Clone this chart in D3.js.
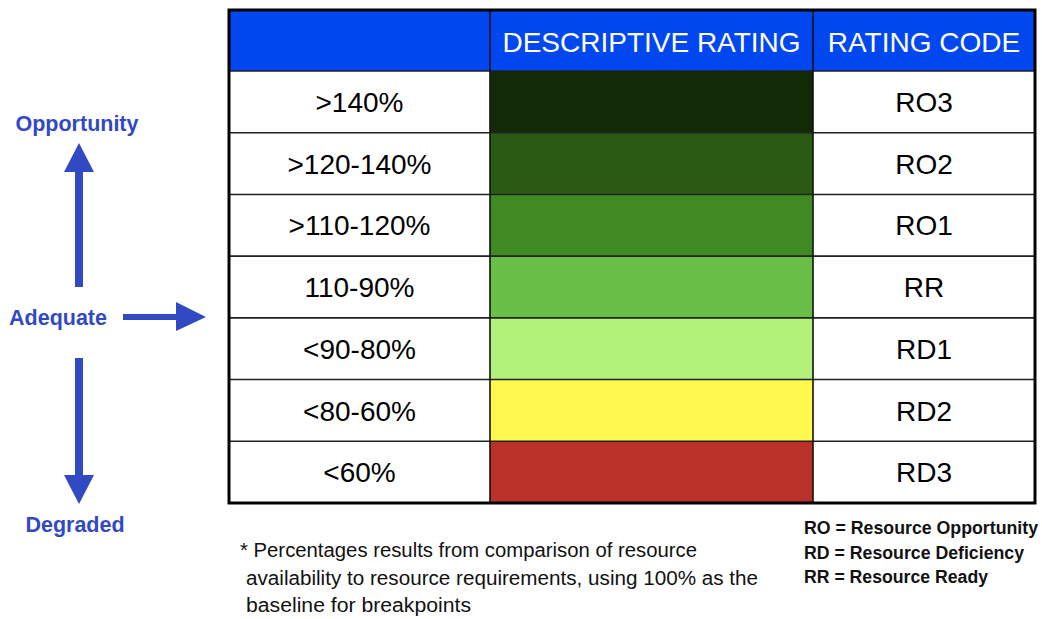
<!DOCTYPE html>
<html>
<head>
<meta charset="utf-8">
<script src="https://cdn.jsdelivr.net/npm/d3@7"></script>
<style>
  body { margin: 0; background: #fff; }
  svg { display: block; }
</style>
</head>
<body>
<div id="chart"></div>
<script>
// table content
const ranges = ['>140%', '>120-140%', '>110-120%', '110-90%', '<90-80%', '<80-60%', '<60%'];
const codes = ['RO3', 'RO2', 'RO1', 'RR', 'RD1', 'RD2', 'RD3'];
const ratingColors = ['#122b06', '#2b5a14', '#3f8a22', '#69bf47', '#b3f27a', '#fef84f', '#b93128'];
const headers = ['', 'DESCRIPTIVE RATING', 'RATING CODE'];
const directions = ['Opportunity', 'Adequate', 'Degraded'];
const footnote = [
  '* Percentages results from comparison of resource',
  'availability to resource requirements, using 100% as the',
  'baseline for breakpoints'
];
const legend = ['RO = Resource Opportunity', 'RD = Resource Deficiency', 'RR = Resource Ready'];

const W = 1042, H = 619;
const blue = '#3249c4';

const svg = d3.select('#chart').append('svg')
  .attr('width', W)
  .attr('height', H);

// layout
const tableLeft = 229, tableRight = 1035, tableTop = 10, headerBottom = 71, tableBottom = 503;
const colEdges = [tableLeft, 490, 813, tableRight];
const cellFont = 'Liberation Sans, Arial, sans-serif';

const y = d3.scaleBand()
  .domain(ranges)
  .range([headerBottom, tableBottom]);

// header
svg.append('rect')
  .attr('x', tableLeft).attr('y', tableTop)
  .attr('width', tableRight - tableLeft).attr('height', headerBottom - tableTop)
  .attr('fill', '#0047f0');

svg.selectAll('text.head')
  .data(headers)
  .enter()
  .append('text')
  .attr('class', 'head')
  .attr('x', (d, i) => (colEdges[i] + colEdges[i + 1]) / 2)
  .attr('y', (tableTop + headerBottom) / 2 + 1)
  .attr('dy', '0.36em')
  .attr('text-anchor', 'middle')
  .attr('font-family', cellFont)
  .attr('font-size', 28)
  .attr('fill', '#fff')
  .text(d => d);

// rating colour cells
svg.selectAll('rect.rating')
  .data(ranges)
  .enter()
  .append('rect')
  .attr('class', 'rating')
  .attr('x', colEdges[1])
  .attr('y', d => y(d))
  .attr('width', colEdges[2] - colEdges[1])
  .attr('height', y.bandwidth())
  .attr('fill', (d, i) => ratingColors[i]);

// range labels
svg.selectAll('text.range')
  .data(ranges)
  .enter()
  .append('text')
  .attr('class', 'range')
  .attr('x', (colEdges[0] + colEdges[1]) / 2)
  .attr('y', d => y(d) + y.bandwidth() / 2)
  .attr('dy', '0.36em')
  .attr('text-anchor', 'middle')
  .attr('font-family', cellFont)
  .attr('font-size', 28)
  .attr('fill', '#000')
  .text(d => d);

// code labels
svg.selectAll('text.code')
  .data(codes)
  .enter()
  .append('text')
  .attr('class', 'code')
  .attr('x', (colEdges[2] + colEdges[3]) / 2)
  .attr('y', (d, i) => y(ranges[i]) + y.bandwidth() / 2)
  .attr('dy', '0.36em')
  .attr('text-anchor', 'middle')
  .attr('font-family', cellFont)
  .attr('font-size', 28)
  .attr('fill', '#000')
  .text(d => d);

// grid lines
svg.selectAll('line.row')
  .data(ranges.slice(1))
  .enter()
  .append('line')
  .attr('x1', tableLeft).attr('x2', tableRight)
  .attr('y1', d => y(d)).attr('y2', d => y(d))
  .attr('stroke', '#222').attr('stroke-width', 1.6);

svg.append('line')
  .attr('x1', tableLeft).attr('x2', tableRight)
  .attr('y1', headerBottom).attr('y2', headerBottom)
  .attr('stroke', '#222').attr('stroke-width', 1.6);

svg.selectAll('line.col')
  .data(colEdges.slice(1, 3))
  .enter()
  .append('line')
  .attr('x1', d => d).attr('x2', d => d)
  .attr('y1', tableTop).attr('y2', tableBottom)
  .attr('stroke', '#111').attr('stroke-width', 1.6);

svg.append('rect')
  .attr('x', tableLeft).attr('y', tableTop)
  .attr('width', tableRight - tableLeft).attr('height', tableBottom - tableTop)
  .attr('fill', 'none')
  .attr('stroke', '#000')
  .attr('stroke-width', 3);

// direction labels and arrows on the left
const dirY = [123, 317, 524];
const dirX = [77, 58, 75];
svg.selectAll('text.dir')
  .data(directions)
  .enter()
  .append('text')
  .attr('x', (d, i) => dirX[i])
  .attr('y', (d, i) => dirY[i])
  .attr('dy', '0.36em')
  .attr('text-anchor', 'middle')
  .attr('font-family', cellFont)
  .attr('font-weight', 'bold')
  .attr('font-size', 21.5)
  .attr('fill', blue)
  .text(d => d);

const arrows = [
  'M75,287 L83,287 L83,172 L94,172 L79,143 L64,172 L75,172 Z',
  'M123,314 L176,314 L176,302 L206,317 L176,331 L176,320 L123,320 Z',
  'M75,358 L83,358 L83,475 L94,475 L79,504 L64,475 L75,475 Z'
];
svg.selectAll('path.arrow')
  .data(arrows)
  .enter()
  .append('path')
  .attr('d', d => d)
  .attr('fill', blue);

// footnote (squeezed to the narrow widths of the reference)
const noteX = [240, 246, 246];
const noteLen = [457, 512, 225];
svg.selectAll('text.note')
  .data(footnote)
  .enter()
  .append('text')
  .attr('x', (d, i) => noteX[i])
  .attr('y', (d, i) => 557 + i * 27.5)
  .attr('font-family', cellFont)
  .attr('font-size', 20)
  .attr('fill', '#111')
  .attr('textLength', (d, i) => noteLen[i])
  .attr('lengthAdjust', 'spacingAndGlyphs')
  .text(d => d);

// code legend
const legendLen = [234, 220, 184];
svg.selectAll('text.legend')
  .data(legend)
  .enter()
  .append('text')
  .attr('x', 804)
  .attr('y', (d, i) => 534 + i * 24.5)
  .attr('font-family', cellFont)
  .attr('font-weight', 'bold')
  .attr('font-size', 17.5)
  .attr('fill', '#111')
  .attr('textLength', (d, i) => legendLen[i])
  .attr('lengthAdjust', 'spacingAndGlyphs')
  .text(d => d);
</script>
</body>
</html>
